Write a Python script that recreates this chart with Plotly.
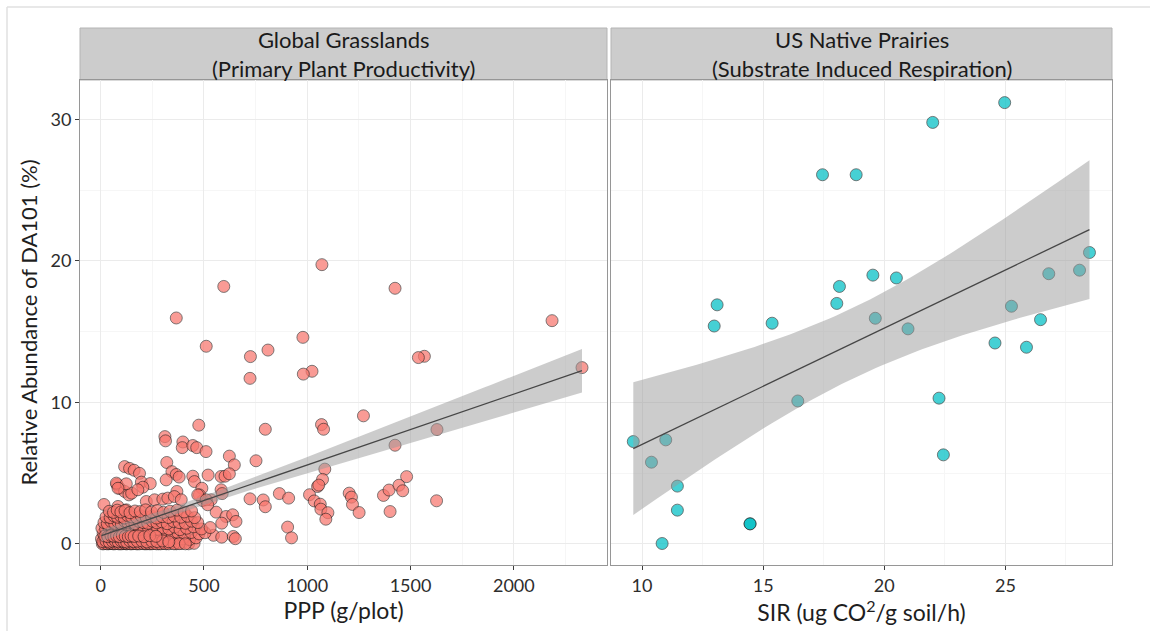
import numpy as np
import plotly.graph_objects as go

# ---------------- data: Global Grasslands (PPP vs relative abundance) ----------------
ppp_outer = [1071, 596, 1425, 366, 2185, 979, 511, 810, 1567, 1538, 725, 2330, 1023, 981, 723,
             1272, 475, 1069, 1079, 797, 1628,
             311, 314, 398, 395, 446, 465, 510, 1425, 623, 752, 647, 320, 1085,
             116, 140, 162, 188, 197, 240, 345, 366, 380, 317,
             79, 92, 116, 137, 150, 204, 180, 369,
             446, 454, 490, 520, 583, 588, 583, 602, 623,
             865, 910, 1011, 1034, 1063, 1066, 1100, 1090, 1050, 1074, 1056,
             723, 787, 797, 905, 924,
             1203, 1214, 1219, 1251,
             1369, 1396, 1444, 1462, 1481, 1401, 1626,
             16, 559, 607, 639, 655, 586, 546, 586, 642, 652,
             494, 535, 478, 470, 511, 518, 84, 124, 221, 261, 301, 325, 357, 390, 76, 124, 84]
abund_outer = [19.74, 18.2, 18.07, 15.97, 15.78, 14.6, 13.97, 13.7, 13.26, 13.17, 13.24, 12.46, 12.2, 12.0, 11.7,
               9.05, 8.39, 8.43, 8.1, 8.1, 8.08,
               7.58, 7.28, 7.2, 6.8, 6.95, 6.8, 6.52, 6.97, 6.2, 5.87, 5.58, 5.75, 5.28,
               5.46, 5.33, 5.2, 4.98, 4.36, 4.26, 5.1, 4.9, 4.72, 4.52,
               4.2, 3.93, 3.7, 3.46, 3.58, 4.0, 3.82, 3.7,
               4.78, 4.4, 3.93, 4.86, 3.82, 3.55, 4.76, 4.78, 4.95,
               3.55, 3.23, 3.47, 3.03, 2.8, 2.45, 2.2, 1.74, 4.05, 4.55, 4.15,
               3.18, 3.1, 2.62, 1.18, 0.42,
               3.58, 3.3, 2.78, 2.21,
               3.42, 3.8, 4.14, 3.75, 4.75, 2.28, 3.04,
               2.78, 2.24, 1.93, 2.05, 1.58, 1.46, 0.6, 0.47, 0.52, 0.36,
               3.06, 3.11, 3.46, 3.46, 3.11, 2.76, 2.64, 2.4, 2.99, 3.11, 3.16, 3.23, 3.34, 3.11, 4.29, 4.24, 3.93]

ppp_cluster = [8, 22, 38, 52, 66, 80, 94, 108, 122, 136, 150, 166, 180, 196, 212, 228, 244, 262, 280, 298, 318, 342, 366, 392, 426, 452,
               4, 18, 34, 48, 62, 78, 96, 114, 132, 150, 172, 192, 214, 236, 258, 284, 312, 338, 364, 396, 430, 462,
               12, 28, 44, 58, 74, 90, 104, 120, 138, 156, 176, 198, 220, 242, 266, 290, 318, 346, 374, 404, 438, 476, 505,
               6, 24, 40, 56, 72, 88, 102, 118, 134, 152, 170, 188, 208, 232, 254, 276, 302, 330, 358, 384, 416, 450, 488, 530,
               16, 32, 50, 68, 84, 100, 116, 132, 148, 166, 186, 206, 228, 250, 272, 296, 322, 352, 380, 410, 440, 470,
               26, 46, 64, 82, 98, 114, 130, 150, 174, 196, 220, 246, 270, 298, 328, 356, 388, 420, 455,
               42, 62, 80, 98, 118, 142, 166, 192, 218, 246, 274, 304, 336, 370, 404, 440,
               15, 30, 45, 60, 73, 87, 101, 115, 128, 143, 157, 173, 188, 204, 220, 236, 252, 270, 290, 310, 330, 355, 380, 410,
               10, 26, 42, 57, 70, 85, 99, 112, 126, 141, 159, 178, 200, 224, 248, 272, 300, 330,
               20, 35, 50, 64, 77, 91, 105, 119, 134, 147, 162, 184, 210, 238, 268]
abund_cluster = [0.0, 0.05, 0.0, 0.02, 0.0, 0.04, 0.0, 0.01, 0.0, 0.03, 0.0, 0.02, 0.0, 0.05, 0.0, 0.01, 0.0, 0.03, 0.0, 0.02, 0.0, 0.04, 0.0, 0.02, 0.0, 0.03,
                 0.35, 0.28, 0.4, 0.3, 0.45, 0.33, 0.38, 0.3, 0.42, 0.36, 0.3, 0.44, 0.33, 0.4, 0.3, 0.38, 0.45, 0.32, 0.4, 0.35, 0.3, 0.42,
                 0.75, 0.7, 0.82, 0.68, 0.78, 0.72, 0.85, 0.7, 0.8, 0.74, 0.66, 0.82, 0.75, 0.7, 0.8, 0.72, 0.85, 0.7, 0.78, 0.72, 0.8, 0.7, 0.78,
                 1.1, 1.05, 1.18, 1.0, 1.15, 1.08, 1.2, 1.02, 1.12, 1.05, 1.2, 1.0, 1.15, 1.08, 1.2, 1.03, 1.12, 1.05, 1.18, 1.0, 1.1, 1.2, 1.05, 1.15,
                 1.5, 1.42, 1.58, 1.45, 1.55, 1.4, 1.6, 1.48, 1.55, 1.42, 1.58, 1.5, 1.45, 1.6, 1.48, 1.55, 1.42, 1.58, 1.5, 1.45, 1.6, 1.5,
                 1.9, 1.85, 1.98, 1.88, 1.95, 1.82, 2.0, 1.9, 1.85, 1.98, 1.88, 1.95, 1.82, 1.92, 1.86, 1.96, 1.88, 1.95, 1.85,
                 2.3, 2.22, 2.38, 2.25, 2.35, 2.2, 2.32, 2.28, 2.4, 2.25, 2.35, 2.22, 2.3, 2.38, 2.25, 2.32,
                 0.0, 0.0, 0.02, 0.0, 0.01, 0.0, 0.0, 0.03, 0.0, 0.0, 0.01, 0.0, 0.0, 0.02, 0.0, 0.0, 0.01, 0.0, 0.0, 0.02, 0.0, 0.0, 0.01, 0.0,
                 0.15, 0.2, 0.12, 0.18, 0.22, 0.14, 0.2, 0.16, 0.12, 0.21, 0.15, 0.18, 0.2, 0.13, 0.19, 0.16, 0.2, 0.14,
                 0.55, 0.5, 0.58, 0.52, 0.56, 0.5, 0.6, 0.54, 0.5, 0.57, 0.52, 0.55, 0.5, 0.58, 0.53]

# ---------------- data: US Native Prairies (SIR vs relative abundance) ----------------
sir = [24.97, 22.0, 17.45, 18.84, 13.1, 12.98, 15.37, 18.15, 18.04, 19.53, 20.5, 19.63, 20.98, 24.57, 25.87,
       26.45, 25.25, 26.79, 28.06, 28.47, 9.64, 10.98, 10.39, 11.46, 11.46, 10.83, 14.46, 14.46, 16.43, 22.26, 22.44]
abund_sir = [31.2, 29.8, 26.1, 26.1, 16.9, 15.4, 15.6, 18.2, 17.0, 19.0, 18.8, 15.95, 15.2, 14.2, 13.9,
             15.85, 16.8, 19.1, 19.35, 20.6, 7.23, 7.35, 5.77, 4.08, 2.38, 0.02, 1.41, 1.41, 10.1, 10.3, 6.29]

panel_titles = ["Global Grasslands<br>(Primary Plant Productivity)",
                "US Native Prairies<br>(Substrate Induced Respiration)"]
x_titles = ["PPP (g/plot)", "SIR (ug CO<sup>2</sup>/g soil/h)"]
y_title = "Relative Abundance of DA101 (%)"
ppp_ticks = [0, 500, 1000, 1500, 2000]
sir_ticks = [10, 15, 20, 25]
y_ticks = [0, 10, 20, 30]

ppp = ppp_outer + ppp_cluster
abund = abund_outer + abund_cluster


def t975(df):
    z = 1.959963985
    g1 = (z**3 + z) / 4
    g2 = (5 * z**5 + 16 * z**3 + 3 * z) / 96
    g3 = (3 * z**7 + 19 * z**5 + 17 * z**3 - 15 * z) / 384
    return z + g1 / df + g2 / df**2 + g3 / df**3


def lm_fit(x, y, n_grid=80):
    x = np.asarray(x, float)
    y = np.asarray(y, float)
    n = len(x)
    xm = x.mean()
    sxx = ((x - xm) ** 2).sum()
    b = ((x - xm) * (y - y.mean())).sum() / sxx
    a = y.mean() - b * xm
    resid = y - (a + b * x)
    s = np.sqrt((resid ** 2).sum() / (n - 2))
    g = np.linspace(x.min(), x.max(), n_grid)
    fit = a + b * g
    se = s * np.sqrt(1 / n + (g - xm) ** 2 / sxx)
    t = t975(n - 2)
    return g, fit, fit - t * se, fit + t * se


FONT = "Lato, 'Open Sans', sans-serif"
fig = go.Figure()

salmon = "#F8766D"
teal = "#00BFC4"

for xs, ys, col, xa, ya in [(ppp, abund, salmon, "x", "y"), (sir, abund_sir, teal, "x2", "y2")]:
    fig.add_trace(go.Scatter(
        x=xs, y=ys, mode="markers", xaxis=xa, yaxis=ya, showlegend=False,
        marker=dict(size=12, color=col, opacity=0.72,
                    line=dict(color="rgba(20,20,20,0.75)", width=1)),
        hoverinfo="x+y"))
    g, fit, lo, hi = lm_fit(xs, ys)
    fig.add_trace(go.Scatter(
        x=np.concatenate([g, g[::-1]]), y=np.concatenate([hi, lo[::-1]]),
        xaxis=xa, yaxis=ya, mode="lines", fill="toself",
        fillcolor="rgba(153,153,153,0.5)", line=dict(width=0),
        showlegend=False, hoverinfo="skip"))
    fig.add_trace(go.Scatter(
        x=g, y=fit, xaxis=xa, yaxis=ya, mode="lines",
        line=dict(color="rgb(70,70,70)", width=1.3),
        showlegend=False, hoverinfo="skip"))

ML, MR, MT, MB = 80, 38, 28, 66
W, H = 1150, 631
pw = W - ML - MR
ph = H - MT - MB
dom_l = [0, (607 - ML) / pw]
dom_r = [(611 - ML) / pw, 1]
panel_top = (H - MB - 80) / ph

axis_common = dict(
    showline=True, mirror=True, linecolor="rgb(150,150,150)", linewidth=1,
    showgrid=True, gridcolor="rgb(235,235,235)", gridwidth=1,
    zeroline=False, ticks="outside", ticklen=4, tickcolor="rgb(60,60,60)",
    tickfont=dict(family=FONT, size=18, color="rgb(45,45,45)"),
)

fig.update_layout(
    width=W, height=H,
    margin=dict(l=ML, r=MR, t=MT, b=MB),
    paper_bgcolor="white", plot_bgcolor="white",
    font=dict(family=FONT),
    xaxis=dict(domain=dom_l, range=[-100, 2451], tickvals=ppp_ticks, anchor="y",
               minor=dict(dtick=250, tick0=0, showgrid=True, gridcolor="rgb(246,246,246)"),
               title=dict(text=x_titles[0], font=dict(family=FONT, size=23, color="rgb(30,30,30)"), standoff=4),
               **axis_common),
    xaxis2=dict(domain=dom_r, range=[8.72, 29.4], tickvals=sir_ticks, anchor="y2",
                minor=dict(dtick=2.5, tick0=0, showgrid=True, gridcolor="rgb(246,246,246)"),
                title=dict(text=x_titles[1], font=dict(family=FONT, size=23, color="rgb(30,30,30)"), standoff=4),
                **axis_common),
    yaxis=dict(domain=[0, panel_top], range=[-1.5, 32.8], tickvals=y_ticks, anchor="x",
               minor=dict(dtick=5, tick0=0, showgrid=True, gridcolor="rgb(246,246,246)"),
               title=dict(text=y_title, font=dict(family=FONT, size=22, color="rgb(30,30,30)"), standoff=6),
               **axis_common),
    yaxis2=dict(domain=[0, panel_top], range=[-1.5, 32.8], tickvals=y_ticks, anchor="x2",
                matches="y", showticklabels=False,
                minor=dict(dtick=5, tick0=0, showgrid=True, gridcolor="rgb(246,246,246)"),
                **{k: v for k, v in axis_common.items() if k not in ("ticks",)}, ticks=""),
)

shapes = []
annotations = []
for dom, txt in zip([dom_l, dom_r], panel_titles):
    shapes.append(dict(type="rect", xref="paper", yref="paper", x0=dom[0], x1=dom[1],
                       y0=panel_top, y1=1, fillcolor="rgb(204,204,204)",
                       line=dict(color="rgb(180,180,180)", width=1), layer="below"))
    annotations.append(dict(xref="paper", yref="paper", x=(dom[0] + dom[1]) / 2,
                            y=(panel_top + 1) / 2, text=txt, showarrow=False,
                            xanchor="center", yanchor="middle",
                            font=dict(family=FONT, size=22, color="rgb(26,26,26)")))

# faint outer frame of the original slide
fx = (7 - ML) / pw
fy = (H - MB - 7) / ph
shapes.append(dict(type="line", xref="paper", yref="paper", x0=fx, x1=(W - ML) / pw, y0=fy, y1=fy,
                   line=dict(color="rgb(225,225,225)", width=1.5)))
shapes.append(dict(type="line", xref="paper", yref="paper", x0=fx, x1=fx, y0=fy, y1=-MB / ph,
                   line=dict(color="rgb(225,225,225)", width=1.5)))

fig.update_layout(shapes=shapes, annotations=annotations)
fig.write_html("out.html")
